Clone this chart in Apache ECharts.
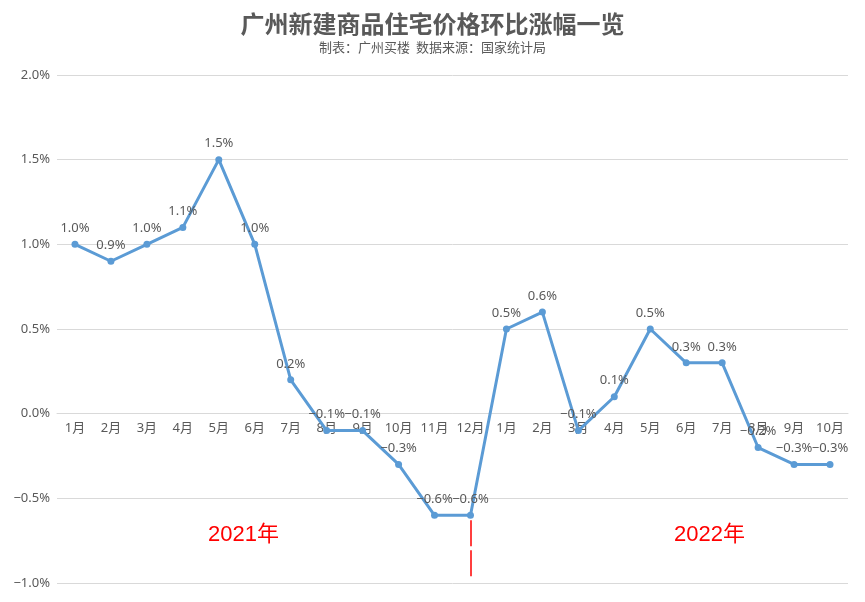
<!DOCTYPE html>
<html>
<head>
<meta charset="utf-8">
<script src="https://cdn.jsdelivr.net/npm/echarts@6/dist/echarts.min.js"></script>
<style>html,body{margin:0;padding:0;background:#fff}#c{width:865px;height:602px}</style>
</head>
<body>
<div id="c"></div>
<script>
var categories = ['1月','2月','3月','4月','5月','6月','7月','8月','9月','10月','11月','12月','1月','2月','3月','4月','5月','6月','7月','8月','9月','10月'];
var values = [1.0,0.9,1.0,1.1,1.5,1.0,0.2,-0.1,-0.1,-0.3,-0.6,-0.6,0.5,0.6,-0.1,0.1,0.5,0.3,0.3,-0.2,-0.3,-0.3];
var yTicks = [-1.0,-0.5,0,0.5,1.0,1.5,2.0];
var yearLabels = ['2021年','2022年'];
var dividerIndex = 11;
var dividerRange = [-0.63,-0.96];

var font = '"Noto Sans CJK SC", "Microsoft YaHei", sans-serif';
var numFont = '"Noto Sans", "Noto Sans CJK SC", sans-serif';
function pct(v){ return (v<0?'\u2212':'') + Math.abs(v).toFixed(1) + '%'; }

var gridTop = 75, gridBottom = 19, H = 602;
var yMin = yTicks[0], yMax = yTicks[yTicks.length-1];
var plotH = H - gridTop - gridBottom;
var zeroOffset = -plotH * (0 - yMin) / (yMax - yMin);

var chart = echarts.init(document.getElementById('c'));
chart.setOption({
  animation:false,
  textStyle:{fontFamily:font},
  title:{
    text:'广州新建商品住宅价格环比涨幅一览',
    subtext:'制表：广州买楼  数据来源：国家统计局',
    left:'center', top:7, itemGap:5,
    textStyle:{fontSize:24,fontWeight:'bold',color:'#595959',fontFamily:font},
    subtextStyle:{fontSize:13,color:'#595959',fontFamily:font}
  },
  grid:{left:57,right:17,top:gridTop,bottom:gridBottom,containLabel:false},
  xAxis:{
    type:'category', data:categories, boundaryGap:true, offset:zeroOffset,
    axisLine:{show:true,onZero:false,lineStyle:{color:'#d9d9d9'}},
    axisTick:{show:false},
    axisLabel:{color:'#595959',fontSize:13,margin:8,interval:0,fontFamily:numFont}
  },
  yAxis:{
    type:'value', min:yMin, max:yMax, interval:0.5,
    axisLine:{show:false}, axisTick:{show:false},
    splitLine:{lineStyle:{color:'#d9d9d9'}},
    axisLabel:{color:'#595959',fontSize:13,margin:7,fontFamily:numFont,formatter:function(v){return pct(v);}}
  },
  series:[{
    type:'line', data:values,
    symbol:'circle', symbolSize:7,
    lineStyle:{color:'#5B9BD5',width:3},
    itemStyle:{color:'#5B9BD5'},
    label:{show:true,position:'top',distance:6,color:'#595959',fontSize:13,fontFamily:numFont,formatter:function(p){return pct(p.value);}},
    markLine:{
      silent:true, symbol:['none','none'], label:{show:false},
      lineStyle:{color:'#ff0000',width:1.5,type:[26,4]},
      data:[[{coord:[dividerIndex,dividerRange[0]]},{coord:[dividerIndex,dividerRange[1]]}]]
    }
  }],
  graphic:[
    {type:'text',left:208,top:524,style:{text:yearLabels[0],fill:'#ff0000',fontSize:22,fontFamily:'Arial, "Noto Sans CJK SC", sans-serif'}},
    {type:'text',left:674,top:524,style:{text:yearLabels[1],fill:'#ff0000',fontSize:22,fontFamily:'Arial, "Noto Sans CJK SC", sans-serif'}}
  ]
});
</script>
</body>
</html>
